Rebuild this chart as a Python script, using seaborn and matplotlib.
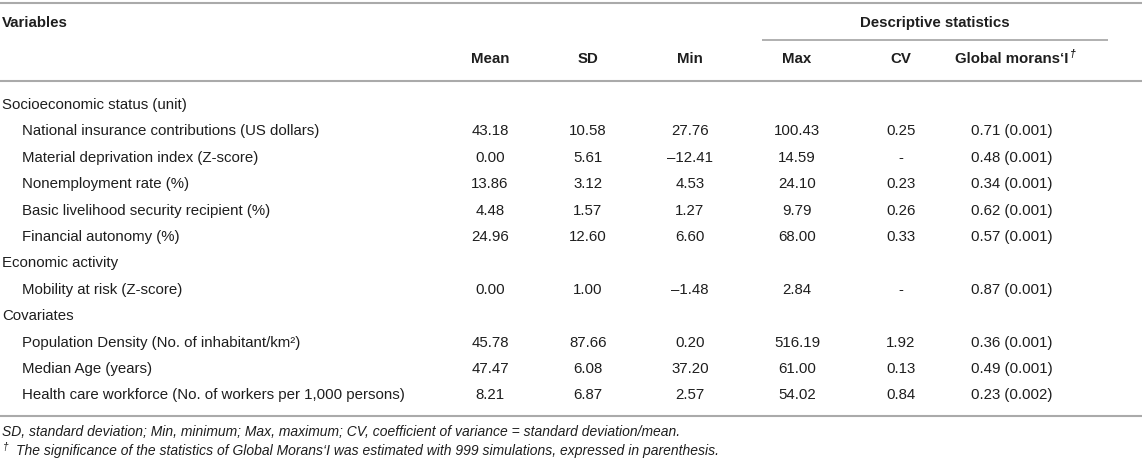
import matplotlib
matplotlib.use("Agg")
import matplotlib.pyplot as plt
import seaborn as sns

sns.set_theme(style="white")
plt.rcParams['font.family'] = ['Liberation Sans', 'DejaVu Sans']

# ---- data ----
col_headers = ["Mean", "SD", "Min", "Max", "CV", "Global morans\u2018I"]
group_header = "Descriptive statistics"
groups = ["Socioeconomic status (unit)", "Economic activity", "Covariates"]
variables = [
    ["National insurance contributions (US dollars)",
     "Material deprivation index (Z-score)",
     "Nonemployment rate (%)",
     "Basic livelihood security recipient (%)",
     "Financial autonomy (%)"],
    ["Mobility at risk (Z-score)"],
    ["Population Density (No. of inhabitant/km\u00b2)",
     "Median Age (years)",
     "Health care workforce (No. of workers per 1,000 persons)"],
]
mean = ["43.18", "0.00", "13.86", "4.48", "24.96", "0.00", "45.78", "47.47", "8.21"]
sd = ["10.58", "5.61", "3.12", "1.57", "12.60", "1.00", "87.66", "6.08", "6.87"]
vmin = ["27.76", "\u201312.41", "4.53", "1.27", "6.60", "\u20131.48", "0.20", "37.20", "2.57"]
vmax = ["100.43", "14.59", "24.10", "9.79", "68.00", "2.84", "516.19", "61.00", "54.02"]
cv = ["0.25", "-", "0.23", "0.26", "0.33", "-", "1.92", "0.13", "0.84"]
moran = ["0.71 (0.001)", "0.48 (0.001)", "0.34 (0.001)", "0.62 (0.001)", "0.57 (0.001)",
         "0.87 (0.001)", "0.36 (0.001)", "0.49 (0.001)", "0.23 (0.002)"]
footnote1 = "SD, standard deviation; Min, minimum; Max, maximum; CV, coefficient of variance = standard deviation/mean."
footnote2 = "The significance of the statistics of Global Morans\u2018I was estimated with 999 simulations, expressed in parenthesis."

# ---- layout ----
W, H = 1142, 463
fig = plt.figure(figsize=(W / 100, H / 100), dpi=100)
ax = fig.add_axes([0, 0, 1, 1])
ax.set_xlim(0, W)
ax.set_ylim(H, 0)
ax.axis("off")

FS = 10.8
FN = 10.0
TC = "#1e1e1e"
LC = "#aaaaaa"
col_x = [490, 588, 690, 797, 901, 1012]

def hline(y, x0=0, x1=W, lw=1.5):
    ax.plot([x0, x1], [y, y], color=LC, lw=lw, solid_capstyle="butt")

hline(3)
hline(40, 762, 1108, lw=1.3)
hline(81)
hline(416)

ax.text(2, 23, "Variables", fontsize=FS, fontweight="bold", color=TC, va="center", ha="left")
ax.text(935, 23, group_header, fontsize=FS, fontweight="bold", color=TC, va="center", ha="center")
renderer = fig.canvas.get_renderer()
last = None
for x, h in zip(col_x, col_headers):
    last = ax.text(x, 59, h, fontsize=FS, fontweight="bold", color=TC, va="center", ha="center")
bb = last.get_window_extent(renderer=renderer)
ax.text(bb.x1 + 1, 54, "\u2020", fontsize=7.5, fontstyle="italic", fontweight="bold",
        color=TC, va="center", ha="left")

y = 105
step = 26.4
k = 0
cols = [mean, sd, vmin, vmax, cv, moran]
for g, vars_ in zip(groups, variables):
    ax.text(2, y, g, fontsize=FS, color=TC, va="center", ha="left")
    y += step
    for v in vars_:
        ax.text(22, y, v, fontsize=FS, color=TC, va="center", ha="left")
        for x, c in zip(col_x, cols):
            ax.text(x, y, c[k], fontsize=FS, color=TC, va="center", ha="center")
        k += 1
        y += step

ax.text(2, 432, footnote1, fontsize=FN, fontstyle="italic", color=TC, va="center", ha="left")
ax.text(3, 447, "\u2020", fontsize=7.2, fontstyle="italic", color=TC, va="center", ha="left")
ax.text(16, 451, footnote2, fontsize=FN, fontstyle="italic", color=TC, va="center", ha="left")

fig.savefig("out.png", dpi=100, facecolor="white")
